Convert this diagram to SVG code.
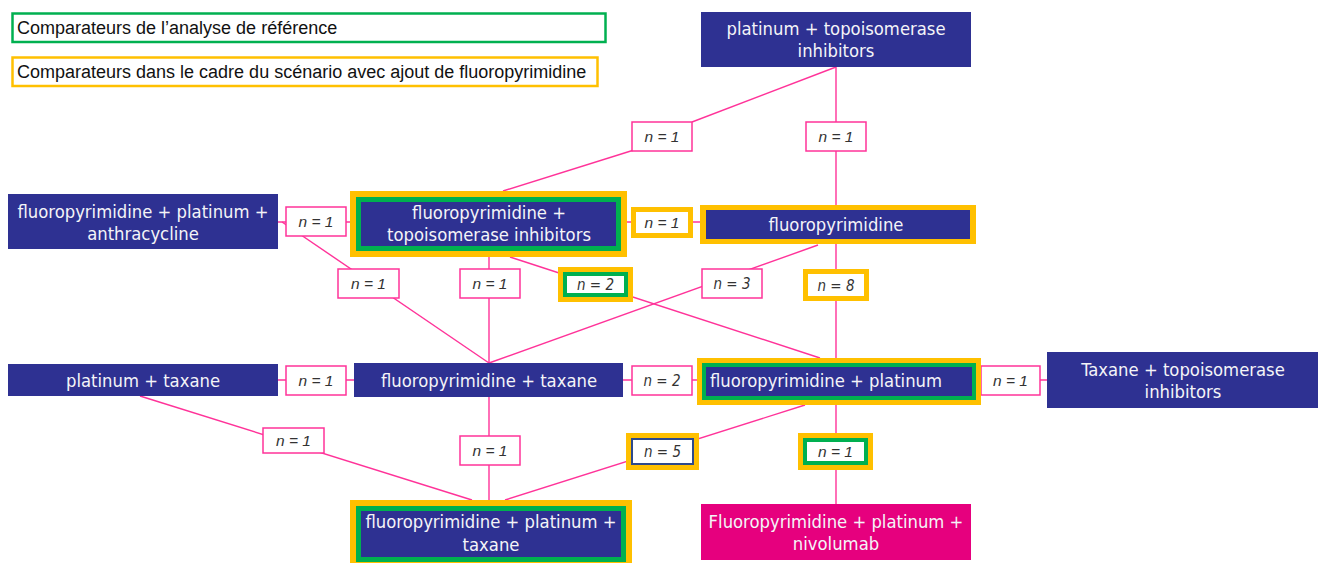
<svg xmlns="http://www.w3.org/2000/svg" width="1318" height="563" viewBox="0 0 1318 563">
<style>
.nv{fill:#2E3192}
.yl{fill:#FFC000}
.gr{fill:#00B050}
.wh{fill:#FFFFFF}
.nt{font-family:"DejaVu Sans Condensed","DejaVu Sans",sans-serif;font-size:18.3px;fill:#F4F4F8;text-anchor:middle}
.lb{fill:#FFFFFF;stroke:#FF3399;stroke-width:1.5}
.lt{font-family:"Liberation Sans",Arial,sans-serif;font-style:italic;font-size:15.5px;fill:#333333;text-anchor:middle}
.lt2{font-family:"DejaVu Sans Condensed","DejaVu Sans",sans-serif;font-style:italic;font-size:15px;fill:#333333;text-anchor:middle}
.ln{stroke:#FF3399;stroke-width:1.4;fill:none}
.lg{font-family:"Liberation Sans",Arial,sans-serif;font-size:18px;fill:#111111}
</style>
<g id="legend">
<rect x="12.5" y="13.5" width="593" height="28.5" fill="#FFFFFF" stroke="#00B050" stroke-width="2.5"/>
<text class="lg" x="17" y="33.5">Comparateurs de l’analyse de référence</text>
<rect x="12.5" y="57.5" width="585" height="28.5" fill="#FFFFFF" stroke="#FFC000" stroke-width="2.5"/>
<text class="lg" x="17" y="77.5">Comparateurs dans le cadre du scénario avec ajout de fluoropyrimidine</text>
</g>
<g id="connectors">
<line class="ln" x1="836" y1="67" x2="836" y2="205"/>
<line class="ln" x1="836" y1="67" x2="692" y2="122"/>
<line class="ln" x1="634" y1="150" x2="503" y2="191"/>
<line class="ln" x1="278" y1="222" x2="350" y2="222"/>
<line class="ln" x1="627" y1="222" x2="700" y2="222"/>
<line class="ln" x1="282" y1="222" x2="489" y2="363"/>
<line class="ln" x1="489" y1="257" x2="489" y2="363"/>
<line class="ln" x1="510" y1="257" x2="820" y2="358"/>
<line class="ln" x1="818" y1="245" x2="489" y2="363"/>
<line class="ln" x1="836" y1="244" x2="836" y2="358"/>
<line class="ln" x1="278" y1="380" x2="354" y2="380"/>
<line class="ln" x1="623" y1="380" x2="697" y2="380"/>
<line class="ln" x1="981" y1="380" x2="1047" y2="380"/>
<line class="ln" x1="836" y1="405" x2="836" y2="504"/>
<line class="ln" x1="805" y1="405" x2="505" y2="500"/>
<line class="ln" x1="140" y1="396" x2="472" y2="500"/>
<line class="ln" x1="489" y1="397" x2="489" y2="500"/>
</g>
<g id="labels">
<rect class="lb" x="632" y="122" width="60" height="29"/><text class="lt" x="662" y="142">n = 1</text>
<rect class="lb" x="806" y="122" width="60" height="29"/><text class="lt" x="836" y="142">n = 1</text>
<rect class="lb" x="286" y="207" width="60" height="29"/><text class="lt" x="316" y="227">n = 1</text>
<g><rect class="yl" x="631" y="207" width="62" height="31"/><rect class="wh" x="636" y="212" width="52" height="21"/><text class="lt" x="662" y="228">n = 1</text></g>
<rect class="lb" x="338" y="269" width="61" height="29"/><text class="lt" x="368.5" y="289">n = 1</text>
<rect class="lb" x="460" y="269" width="60" height="29"/><text class="lt" x="490" y="289">n = 1</text>
<g><rect class="yl" x="558" y="267" width="75" height="35"/><rect class="gr" x="563" y="272" width="65" height="25"/><rect class="wh" x="567" y="276" width="57" height="17"/><text class="lt2" x="595.5" y="290">n = 2</text></g>
<rect class="lb" x="702" y="269" width="60" height="29"/><text class="lt2" x="732" y="289">n = 3</text>
<g><rect class="yl" x="803" y="269" width="66" height="32"/><rect class="wh" x="808" y="274" width="56" height="22"/><text class="lt2" x="836" y="290.5">n = 8</text></g>
<rect class="lb" x="286" y="366" width="60" height="29"/><text class="lt" x="316" y="386">n = 1</text>
<rect class="lb" x="632" y="366" width="60" height="29"/><text class="lt2" x="662" y="386">n = 2</text>
<rect class="lb" x="981" y="366" width="59" height="29"/><text class="lt" x="1010.5" y="386">n = 1</text>
<rect class="lb" x="263" y="428" width="61" height="25"/><text class="lt" x="293.5" y="446">n = 1</text>
<rect class="lb" x="460" y="436" width="60" height="29"/><text class="lt" x="490" y="456">n = 1</text>
<g><rect class="yl" x="626" y="433" width="73" height="37"/><rect x="631" y="438" width="63" height="27" fill="#2E4A8C"/><rect class="wh" x="633" y="440" width="59" height="23"/><text class="lt2" x="662.5" y="457">n = 5</text></g>
<g><rect class="yl" x="798" y="433" width="75" height="37"/><rect class="gr" x="803" y="438" width="65" height="27"/><rect class="wh" x="807" y="442" width="57" height="19"/><text class="lt" x="835.5" y="457">n = 1</text></g>
</g>
<g id="node-platinum-topo">
<rect class="nv" x="701" y="12" width="270" height="55"/>
<text class="nt" x="836" y="35">platinum + topoisomerase</text>
<text class="nt" x="836" y="57">inhibitors</text>
</g>
<g id="node-fp-plat-anthra">
<rect class="nv" x="8" y="194" width="270" height="55"/>
<text class="nt" x="143" y="218">fluoropyrimidine + platinum +</text>
<text class="nt" x="143" y="240">anthracycline</text>
</g>
<g id="node-fp-topo">
<rect class="yl" x="350" y="191" width="277" height="66"/>
<rect class="gr" x="356" y="197" width="265" height="54"/>
<rect class="nv" x="361" y="202" width="255" height="44"/>
<text class="nt" x="489" y="219">fluoropyrimidine +</text>
<text class="nt" x="489" y="241">topoisomerase inhibitors</text>
</g>
<g id="node-fp">
<rect class="yl" x="700" y="205" width="276" height="39"/>
<rect class="nv" x="706" y="210" width="264" height="29"/>
<text class="nt" x="836" y="230.5">fluoropyrimidine</text>
</g>
<g id="node-plat-taxane">
<rect class="nv" x="8" y="364" width="270" height="32"/>
<text class="nt" x="143" y="386.5">platinum + taxane</text>
</g>
<g id="node-fp-taxane">
<rect class="nv" x="354" y="363" width="269" height="34"/>
<text class="nt" x="489" y="386.5">fluoropyrimidine + taxane</text>
</g>
<g id="node-fp-plat">
<rect class="yl" x="697" y="358" width="284" height="47"/>
<rect class="gr" x="702" y="363" width="274" height="37"/>
<rect class="nv" x="706" y="367" width="266" height="29"/>
<text class="nt" x="826" y="387">fluoropyrimidine + platinum</text>
</g>
<g id="node-taxane-topo">
<rect class="nv" x="1047" y="352" width="271" height="56"/>
<text class="nt" x="1183" y="376">Taxane + topoisomerase</text>
<text class="nt" x="1183" y="398">inhibitors</text>
</g>
<g id="node-fp-plat-taxane">
<rect class="yl" x="350" y="500" width="282" height="68"/>
<rect class="gr" x="356" y="506" width="270" height="56"/>
<rect class="nv" x="361" y="511" width="260" height="46"/>
<text class="nt" x="491" y="528">fluoropyrimidine + platinum +</text>
<text class="nt" x="491" y="551">taxane</text>
</g>
<g id="node-fp-plat-nivo">
<rect x="701" y="504" width="270" height="56" fill="#E6007E"/>
<text class="nt" x="836" y="528">Fluoropyrimidine + platinum +</text>
<text class="nt" x="836" y="550">nivolumab</text>
</g>
</svg>
